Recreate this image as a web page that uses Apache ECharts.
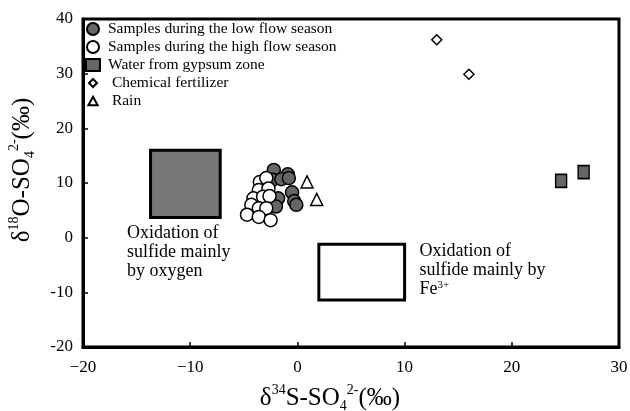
<!DOCTYPE html>
<html>
<head>
<meta charset="utf-8">
<script src="https://cdn.jsdelivr.net/npm/echarts@6/dist/echarts.min.js"></script>
<style>
  html, body { margin: 0; padding: 0; background: #fff; }
  #chart { width: 630px; height: 411px; }
</style>
</head>
<body>
<div id="chart"></div>
<script>
// data: [δ34S, δ18O]
const lowFlow = [
  [-2.2, 12.4], [-0.9, 11.6], [-2.3, 10.6], [-1.5, 10.7], [-0.8, 10.9],
  [-0.5, 8.3], [-0.3, 6.7], [-0.1, 6.0], [-1.8, 7.2], [-2.0, 5.7]
];
const highFlow = [
  [-3.5, 10.2], [-2.9, 10.9], [-3.6, 8.7], [-2.7, 9.0], [-4.1, 7.2],
  [-3.2, 7.5], [-2.6, 7.6], [-4.3, 6.0], [-3.6, 5.4], [-2.9, 5.4],
  [-4.7, 4.2], [-3.6, 3.8], [-2.5, 3.2]
];
const gypsum = [[24.6, 10.4], [26.7, 12.0]];
const fertilizer = [[13.0, 36.2], [16.0, 29.9]];
const rain = [[0.9, 10.2], [1.8, 7.0]];

// source boxes [x1, y1, x2, y2]
const oxygenBox = [-13.7, 3.7, -7.2, 16.0];
const ironBox = [2.0, -11.4, 10.0, -1.2];

const seriesNames = [
  'Samples during the low flow season',
  'Samples during the high flow season',
  'Water from gypsum zone',
  ' Chemical fertilizer',
  ' Rain'
];

const serif = '"Liberation Serif", "DejaVu Serif", serif';

// smaller legend icons: the extra move-to points pad the icon box
const smallDiamond = 'path://M5,0L10,5L5,10L0,5Z M-2.5,-2.5 M12.5,12.5';
const smallTriangle = 'path://M5,0L10,9L0,9Z M-1.5,-2 M11.5,11';

const chart = echarts.init(document.getElementById('chart'));

const titleRich = {
  sup: { fontSize: 14, verticalAlign: 'top', lineHeight: 30, fontFamily: serif },
  sub: { fontSize: 14, verticalAlign: 'bottom', lineHeight: 30, fontFamily: serif }
};

const option = {
  backgroundColor: '#fff',
  animation: false,
  textStyle: { fontFamily: serif, color: '#000' },
  grid: {
    left: 83, right: 11, top: 19, bottom: 64,
    outerBoundsMode: 'none',
    show: true, borderColor: '#000', borderWidth: 3
  },
  legend: {
    data: [
      { name: seriesNames[0] },
      { name: seriesNames[1] },
      { name: seriesNames[2] },
      { name: seriesNames[3], icon: smallDiamond },
      { name: seriesNames[4], icon: smallTriangle }
    ],
    orient: 'vertical',
    left: 80,
    top: 16,
    itemWidth: 14,
    itemHeight: 12,
    itemGap: 2,
    textStyle: { fontFamily: serif, fontSize: 15.5, lineHeight: 16, color: '#000', padding: [0, 0, 0, 3] }
  },
  xAxis: {
    type: 'value', min: -20, max: 30, interval: 10,
    axisLine: { onZero: false, lineStyle: { color: '#000', width: 3 } },
    axisTick: { inside: true, length: 5, lineStyle: { color: '#000', width: 1.5 } },
    splitLine: { show: false },
    axisLabel: {
      fontFamily: serif, fontSize: 17, color: '#000', margin: 12,
      formatter: v => (v < 0 ? '\u2212' + Math.abs(v) : String(v))
    },
    name: 'δ{sup|34}S-SO{sub|4}{sup|2-}(‰)',
    nameLocation: 'middle',
    nameGap: 36,
    nameTextStyle: {
      fontFamily: serif, fontSize: 25, color: '#000', lineHeight: 30,
      padding: [0, 42, 0, 0],
      rich: titleRich
    }
  },
  yAxis: {
    type: 'value', min: -20, max: 40, interval: 10,
    axisLine: { onZero: false, lineStyle: { color: '#000', width: 3 } },
    axisTick: { inside: true, length: 5, lineStyle: { color: '#000', width: 1.5 } },
    splitLine: { show: false },
    axisLabel: { fontFamily: serif, fontSize: 17, color: '#000', margin: 10 },
    name: 'δ{sup|18}O-SO{sub|4}{sup|2-}(‰)',
    nameLocation: 'middle',
    nameGap: 46,
    nameRotate: 90,
    nameTextStyle: {
      fontFamily: serif, fontSize: 25, color: '#000', lineHeight: 30,
      padding: [0, 0, 0, 26],
      rich: titleRich
    }
  },
  series: [
    {
      name: 'boxes',
      type: 'scatter',
      data: [],
      silent: true,
      markArea: {
        silent: true,
        data: [
          [{ coord: [oxygenBox[0], oxygenBox[1]], itemStyle: { color: '#777', borderColor: '#000', borderWidth: 3 } },
           { coord: [oxygenBox[2], oxygenBox[3]] }],
          [{ coord: [ironBox[0], ironBox[1]], itemStyle: { color: '#fff', borderColor: '#000', borderWidth: 3 } },
           { coord: [ironBox[2], ironBox[3]] }]
        ]
      },
      markPoint: {
        symbol: 'circle',
        symbolSize: 0,
        label: {
          show: true, position: 'right', distance: 0, align: 'left', verticalAlign: 'top',
          fontFamily: serif, fontSize: 18, lineHeight: 19, color: '#000'
        },
        data: [
          { coord: [-15.9, 2.6], label: { formatter: 'Oxidation of\nsulfide mainly\nby oxygen' } },
          { coord: [11.4, -0.8], label: { formatter: 'Oxidation of\nsulfide mainly by\nFe{sup|3+}',
              rich: { sup: { fontSize: 11, verticalAlign: 'top', lineHeight: 19, fontFamily: serif } } } }
        ]
      }
    },
    {
      name: seriesNames[0], type: 'scatter', data: lowFlow,
      symbol: 'circle', symbolSize: 13,
      itemStyle: { color: '#666', borderColor: '#000', borderWidth: 1.5, opacity: 1 }
    },
    {
      name: seriesNames[1], type: 'scatter', data: highFlow,
      symbol: 'circle', symbolSize: 13,
      itemStyle: { color: '#fff', borderColor: '#000', borderWidth: 1.5, opacity: 1 }
    },
    {
      name: seriesNames[2], type: 'scatter', data: gypsum,
      symbol: 'rect', symbolSize: [11, 13],
      itemStyle: { color: '#666', borderColor: '#000', borderWidth: 1.5, opacity: 1 }
    },
    {
      name: seriesNames[3], type: 'scatter', data: fertilizer,
      symbol: 'diamond', symbolSize: 10,
      itemStyle: { color: '#fff', borderColor: '#000', borderWidth: 1.5, opacity: 1 }
    },
    {
      name: seriesNames[4], type: 'scatter', data: rain,
      symbol: 'triangle', symbolSize: 12,
      itemStyle: { color: '#fff', borderColor: '#000', borderWidth: 1.5, opacity: 1 }
    }
  ]
};

chart.setOption(option);
</script>
</body>
</html>
